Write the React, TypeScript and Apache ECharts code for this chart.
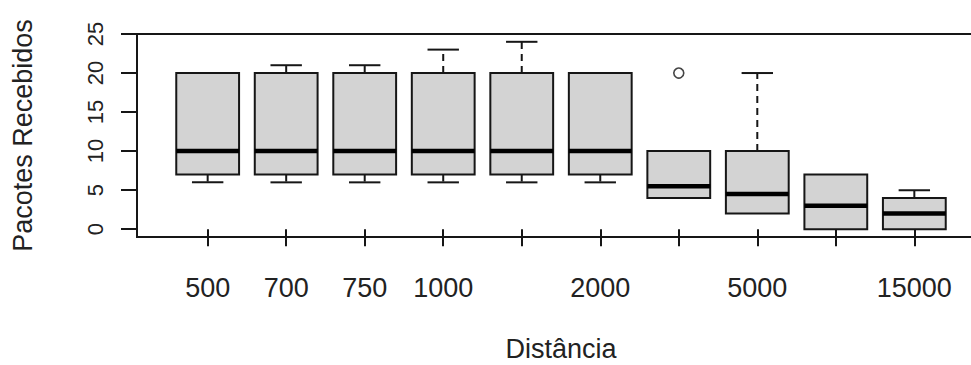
import React, { useEffect, useRef } from "react";
import * as echarts from "echarts";

const categories = ["500", "700", "750", "1000", "1500", "2000", "3000", "5000", "10000", "15000"];
const mins = [6, 6, 6, 6, 6, 6, 4, 2, 0, 0];
const q1s = [7, 7, 7, 7, 7, 7, 4, 2, 0, 0];
const medians = [10, 10, 10, 10, 10, 10, 5.5, 4.5, 3, 2];
const q3s = [20, 20, 20, 20, 20, 20, 10, 10, 7, 4];
const maxs = [20, 21, 21, 23, 24, 20, 10, 20, 7, 5];
const outliers: [number, number][] = [[7, 20]];
const yTicks = [0, 5, 10, 15, 20, 25];
const shownLabelIdx = [1, 2, 3, 4, 6, 8, 10];

const FONT = "'Liberation Sans', Arial, Helvetica, sans-serif";
const INK = "#161616";

export default function App() {
  const ref = useRef<HTMLDivElement>(null);
  useEffect(() => {
    if (!ref.current) return;
    const chart = echarts.init(ref.current, undefined, { renderer: "svg" });
    const boxData = categories.map((_, i) => [i + 1, mins[i], q1s[i], medians[i], q3s[i], maxs[i]]);
    const option: any = {
      animation: false,
      backgroundColor: "#ffffff",
      grid: {
        show: true,
        left: 137,
        top: 34,
        width: 848,
        height: 203,
        containLabel: false,
        outerBoundsMode: "none",
        borderColor: INK,
        borderWidth: 2,
        backgroundColor: "transparent",
      },
      xAxis: {
        type: "value",
        min: 0.1,
        max: 10.9,
        name: "Distância",
        nameLocation: "middle",
        nameGap: 99,
        nameTextStyle: { fontFamily: FONT, fontSize: 27, lineHeight: 26, color: "#222" },
        axisLine: { show: false },
        splitLine: { show: false },
        axisTick: {
          show: true,
          length: 17,
          customValues: categories.map((_, i) => i + 1),
          lineStyle: { color: INK, width: 2 },
        },
        axisLabel: {
          customValues: shownLabelIdx,
          formatter: (v: number) => categories[Math.round(v) - 1],
          fontFamily: FONT,
          fontSize: 27,
          color: "#222",
          margin: 37,
        },
      },
      yAxis: {
        type: "value",
        min: -1,
        max: 25,
        name: "Pacotes Recebidos",
        nameLocation: "middle",
        nameGap: 101,
        nameRotate: 90,
        nameTextStyle: { fontFamily: FONT, fontSize: 27, color: "#222" },
        axisLine: { show: false },
        splitLine: { show: false },
        axisTick: {
          show: true,
          length: 16,
          customValues: yTicks,
          lineStyle: { color: INK, width: 2 },
        },
        axisLabel: {
          customValues: yTicks,
          rotate: 90,
          fontFamily: FONT,
          fontSize: 22,
          color: "#222",
          margin: 31,
        },
      },
      series: [
        {
          type: "custom",
          data: boxData,
          encode: { x: 0, y: [1, 2, 3, 4, 5] },
          renderItem: (params: any, api: any) => {
            const x = api.value(0);
            const pMin = api.coord([x, api.value(1)]);
            const pQ1 = api.coord([x, api.value(2)]);
            const pMed = api.coord([x, api.value(3)]);
            const pQ3 = api.coord([x, api.value(4)]);
            const pMax = api.coord([x, api.value(5)]);
            const half = api.size([0.8, 0])[0] / 2;
            const cap = half / 2;
            const cx = pQ1[0];
            const children: any[] = [];
            if (pMax[1] < pQ3[1] - 0.5) {
              children.push({
                type: "line",
                shape: { x1: cx, y1: pQ3[1], x2: cx, y2: pMax[1] },
                style: { stroke: INK, lineWidth: 2, lineDash: [7, 5] },
              });
              children.push({
                type: "line",
                shape: { x1: cx - cap, y1: pMax[1], x2: cx + cap, y2: pMax[1] },
                style: { stroke: INK, lineWidth: 2 },
              });
            }
            if (pMin[1] > pQ1[1] + 0.5) {
              children.push({
                type: "line",
                shape: { x1: cx, y1: pQ1[1], x2: cx, y2: pMin[1] },
                style: { stroke: INK, lineWidth: 2, lineDash: [7, 5] },
              });
              children.push({
                type: "line",
                shape: { x1: cx - cap, y1: pMin[1], x2: cx + cap, y2: pMin[1] },
                style: { stroke: INK, lineWidth: 2 },
              });
            }
            children.push({
              type: "rect",
              shape: { x: cx - half, y: pQ3[1], width: 2 * half, height: pQ1[1] - pQ3[1] },
              style: { fill: "#d3d3d3", stroke: INK, lineWidth: 2 },
            });
            children.push({
              type: "line",
              shape: { x1: cx - half, y1: pMed[1], x2: cx + half, y2: pMed[1] },
              style: { stroke: "#000", lineWidth: 4.5 },
            });
            return { type: "group", children };
          },
        },
        {
          type: "scatter",
          data: outliers,
          symbol: "circle",
          symbolSize: 10,
          itemStyle: { color: "#ffffff", borderColor: INK, borderWidth: 1.6 },
        },
      ],
    };
    chart.setOption(option);
    return () => chart.dispose();
  }, []);
  return (
    <div
      ref={ref}
      style={{ position: "fixed", left: 0, top: 0, width: 971, height: 365, background: "#fff" }}
    />
  );
}
